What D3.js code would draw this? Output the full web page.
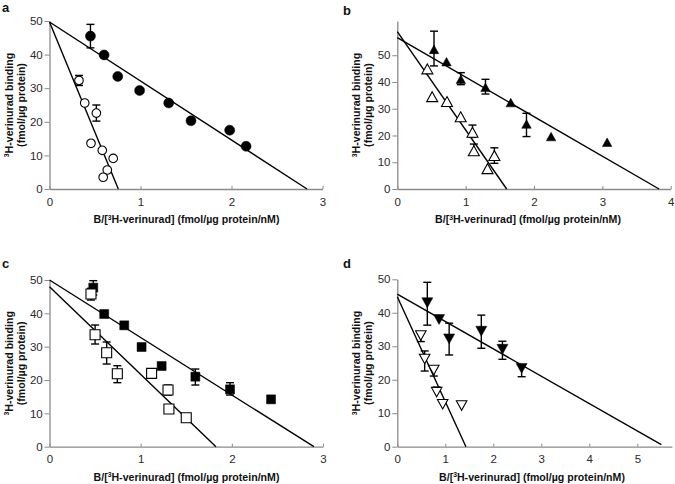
<!DOCTYPE html>
<html>
<head>
<meta charset="utf-8">
<script src="https://cdn.jsdelivr.net/npm/d3@7"></script>
<style>
  html, body { margin: 0; padding: 0; background: #fff; }
  svg { display: block; }
</style>
</head>
<body>
<svg id="chart" width="675" height="484"></svg>
<script>
// ---------- DATA ----------
// Each point: x = B/[3H-verinurad], y = 3H-verinurad binding, lo/hi = error bar ends (null = hidden)
const aFilled = [
  {x:0.45, y:45.5, lo:42.0, hi:49.0}, {x:0.60, y:39.9}, {x:0.75, y:33.5}, {x:0.99, y:29.3},
  {x:1.31, y:25.6}, {x:1.555, y:20.3}, {x:1.98, y:17.5}, {x:2.16, y:12.7}
];
const aOpen = [
  {x:0.324, y:32.3, lo:30.8, hi:33.8}, {x:0.387, y:25.6}, {x:0.515, y:22.6, lo:20.2, hi:25.0},
  {x:0.456, y:13.6}, {x:0.58, y:11.5}, {x:0.70, y:9.1}, {x:0.635, y:5.65}, {x:0.59, y:3.5}
];
const aFilledLine = [[0, 49.7], [2.83, 0]];
const aOpenLine   = [[0, 49.7], [0.756, 0]];

const bFilled = [
  {x:0.537, y:52.2, lo:46.0, hi:59.0}, {x:0.72, y:47.6}, {x:0.93, y:41.0, lo:39.0, hi:43.5},
  {x:1.29, y:38.0, lo:35.5, hi:41.0}, {x:1.66, y:32.3}, {x:1.89, y:24.3, lo:19.6, hi:28.3},
  {x:2.25, y:19.6}, {x:3.07, y:17.5}
];
const bOpen = [
  {x:0.44, y:44.9}, {x:0.51, y:34.5}, {x:0.727, y:32.7}, {x:0.927, y:27.0},
  {x:1.10, y:21.2, lo:19.3, hi:23.9}, {x:1.12, y:14.3, lo:null, hi:16.8},
  {x:1.42, y:12.5, lo:9.6, hi:15.4}, {x:1.32, y:7.6}
];
const bFilledLine = [[0, 56.6], [3.83, 0]];
const bOpenLine   = [[0, 58.8], [1.60, 0]];

const cFilled = [
  {x:0.48, y:47.7, lo:45.5, hi:49.8}, {x:0.60, y:39.8}, {x:0.82, y:36.4}, {x:1.01, y:29.9},
  {x:1.23, y:24.2}, {x:1.60, y:21.0, lo:18.5, hi:23.3}, {x:1.98, y:17.2, lo:15.5, hi:19.2},
  {x:2.43, y:14.2}
];
const cOpen = [
  {x:0.455, y:45.8, lo:44.0, hi:47.5}, {x:0.50, y:33.6, lo:30.8, hi:36.5},
  {x:0.627, y:28.2, lo:24.8, hi:31.4}, {x:0.744, y:21.9, lo:19.2, hi:24.3},
  {x:1.12, y:22.0}, {x:1.30, y:17.0, lo:15.5, hi:18.5}, {x:1.31, y:11.3}, {x:1.50, y:8.7}
];
const cFilledLine = [[0, 50.0], [2.90, 0]];
const cOpenLine   = [[0, 48.0], [1.826, 0]];

const dFilled = [
  {x:0.625, y:43.0, lo:36.3, hi:49.1}, {x:0.87, y:38.0}, {x:1.08, y:32.2, lo:27.4, hi:36.9},
  {x:1.75, y:34.5, lo:29.4, hi:39.3}, {x:2.19, y:29.1, lo:26.1, hi:31.5},
  {x:2.59, y:23.4, lo:20.9, hi:null}
];
const dOpen = [
  {x:0.49, y:33.2, lo:31.4, hi:null}, {x:0.57, y:26.2, lo:22.6, hi:28.6},
  {x:0.76, y:22.9, lo:21.1, hi:null}, {x:0.82, y:16.3, lo:null, hi:17.8},
  {x:0.945, y:12.7}, {x:1.34, y:12.3}
];
const dFilledLine = [[0, 45.6], [5.50, 0.6]];
const dOpenLine   = [[0, 44.8], [1.43, 0]];

// Tick labels
const xTicks3 = [0, 1, 2, 3];
const xTicks4 = [0, 1, 2, 3, 4];
const xTicks5 = [0, 1, 2, 3, 4, 5];
const yTicks  = [0, 10, 20, 30, 40, 50];

// Text
const panelLetters = ["a", "b", "c", "d"];
const yLabelLine1 = "H-verinurad binding";
const yLabelLine2 = "(fmol/\u00b5g protein)";
const xLabelPre = "B/[";
const xLabelPost = "H-verinurad] (fmol/\u00b5g protein/nM)";

// ---------- DRAWING ----------
const svg = d3.select("#chart");
const FONT = "'Liberation Sans', Arial, Helvetica, sans-serif";
const AXIS_COL = "#8a8a8a";

// marker path generators (centered at 0,0)
const shapes = {
  circle: (s) => { const r = s / 2; return `M${-r},0A${r},${r} 0 1,0 ${r},0A${r},${r} 0 1,0 ${-r},0Z`; },
  up: (s) => { const h = s * 0.9, w = s; return `M0,${-h/2}L${w/2},${h/2}L${-w/2},${h/2}Z`; },
  down: (s) => { const h = s * 0.9, w = s; return `M0,${h/2}L${w/2},${-h/2}L${-w/2},${-h/2}Z`; },
  square: (s) => { const r = s / 2; return `M${-r},${-r}H${r}V${r}H${-r}Z`; }
};

const panels = [
  { letter: panelLetters[0], lx: 2, ly: 12, left: 49.5, right: 322.5, bottom: 189, top: 21,
    xDom: [0, 3], yDom: [0, 50], xTicks: xTicks3, xLabelCx: 186.5,
    series: [
      { data: aFilled, line: aFilledLine, shape: "circle", fill: true, size: 10 },
      { data: aOpen, line: aOpenLine, shape: "circle", fill: false, size: 8.6 }
    ] },
  { letter: panelLetters[1], lx: 343, ly: 15, left: 397.3, right: 670.7, bottom: 189, top: 21,
    xDom: [0, 4], yDom: [0, 62.8], xTicks: xTicks4, xLabelCx: 528,
    series: [
      { data: bFilled, line: bFilledLine, shape: "up", fill: true, size: 9.5 },
      { data: bOpen, line: bOpenLine, shape: "up", fill: false, size: 11 }
    ] },
  { letter: panelLetters[2], lx: 2, ly: 268, left: 49.5, right: 323, bottom: 446.7, top: 280,
    xDom: [0, 3], yDom: [0, 50], xTicks: xTicks3, xLabelCx: 186.5,
    series: [
      { data: cFilled, line: cFilledLine, shape: "square", fill: true, size: 9 },
      { data: cOpen, line: cOpenLine, shape: "square", fill: false, size: 10 }
    ] },
  { letter: panelLetters[3], lx: 343, ly: 268, left: 397.3, right: 671.9, bottom: 446.7, top: 279.3,
    xDom: [0, 5.72], yDom: [0, 50], xTicks: xTicks5, xLabelCx: 532,
    series: [
      { data: dFilled, line: dFilledLine, shape: "down", fill: true, size: 11 },
      { data: dOpen, line: dOpenLine, shape: "down", fill: false, size: 10.5 }
    ] }
];

panels.forEach(p => {
  const x = d3.scaleLinear().domain(p.xDom).range([p.left, p.right]);
  const y = d3.scaleLinear().domain(p.yDom).range([p.bottom, p.top]);
  const g = svg.append("g");

  // x axis (ticks pointing inward)
  const gx = g.append("g").attr("transform", `translate(0,${p.bottom})`)
    .call(d3.axisBottom(x).tickValues(p.xTicks).tickFormat(d3.format("d"))
      .tickSizeInner(-3).tickSizeOuter(0).tickPadding(8.4));
  // y axis (ticks pointing outward)
  const gy = g.append("g").attr("transform", `translate(${p.left},0)`)
    .call(d3.axisLeft(y).tickValues(yTicks).tickFormat(d3.format("d"))
      .tickSizeInner(5).tickSizeOuter(0).tickPadding(1.8));
  [gx, gy].forEach(a => {
    a.select(".domain").attr("stroke", AXIS_COL).attr("stroke-width", 1.3);
    a.selectAll(".tick line").attr("stroke", AXIS_COL).attr("stroke-width", 1);
    a.selectAll(".tick text").attr("fill", "#2a2a2a").style("font-family", FONT).style("font-size", "11.5px");
  });

  // panel letter
  g.append("text").attr("x", p.lx).attr("y", p.ly).text(p.letter)
    .style("font-family", FONT).style("font-weight", "bold").style("font-size", "13px").attr("fill", "#111");

  // x label
  const xl = g.append("text").attr("x", p.xLabelCx).attr("y", p.bottom + 34.3)
    .attr("text-anchor", "middle").style("font-family", FONT).style("font-weight", "bold")
    .style("font-size", "10.6px").attr("fill", "#111");
  xl.append("tspan").text(xLabelPre);
  xl.append("tspan").text("3").attr("dy", -3.8).style("font-size", "6.8px");
  xl.append("tspan").text(xLabelPost).attr("dy", 3.8);

  // y label (two lines, rotated)
  const cy = (p.top + p.bottom) / 2;
  const yl1 = g.append("text").attr("transform", `translate(${p.left - 37},${cy}) rotate(-90)`)
    .attr("text-anchor", "middle").style("font-family", FONT).style("font-weight", "bold")
    .style("font-size", "10.6px").attr("fill", "#111");
  yl1.append("tspan").text("3").attr("dy", -3.8).style("font-size", "6.8px");
  yl1.append("tspan").text(yLabelLine1).attr("dy", 3.8);
  g.append("text").attr("transform", `translate(${p.left - 25},${cy}) rotate(-90)`)
    .attr("text-anchor", "middle").style("font-family", FONT).style("font-weight", "bold")
    .style("font-size", "10.6px").attr("fill", "#111").text(yLabelLine2);

  // regression lines
  p.series.forEach(s => {
    g.append("line")
      .attr("x1", x(s.line[0][0])).attr("y1", y(s.line[0][1]))
      .attr("x2", x(s.line[1][0])).attr("y2", y(s.line[1][1]))
      .attr("stroke", "#000").attr("stroke-width", 1.4);
  });

  // error bars
  p.series.forEach(s => {
    s.data.forEach(d => {
      [d.lo, d.hi].forEach(e => {
        if (e == null) return;
        g.append("line").attr("x1", x(d.x)).attr("x2", x(d.x)).attr("y1", y(d.y)).attr("y2", y(e))
          .attr("stroke", "#000").attr("stroke-width", 1.4);
        g.append("line").attr("x1", x(d.x) - 4).attr("x2", x(d.x) + 4).attr("y1", y(e)).attr("y2", y(e))
          .attr("stroke", "#000").attr("stroke-width", 1.4);
      });
    });
  });

  // markers
  p.series.forEach(s => {
    g.selectAll(null).data(s.data).enter().append("path")
      .attr("transform", d => `translate(${x(d.x)},${y(d.y)})`)
      .attr("d", shapes[s.shape](s.size))
      .attr("fill", s.fill ? "#000" : "#fff")
      .attr("stroke", "#000").attr("stroke-width", s.fill ? 0.5 : 1.1);
  });
});
</script>
</body>
</html>
